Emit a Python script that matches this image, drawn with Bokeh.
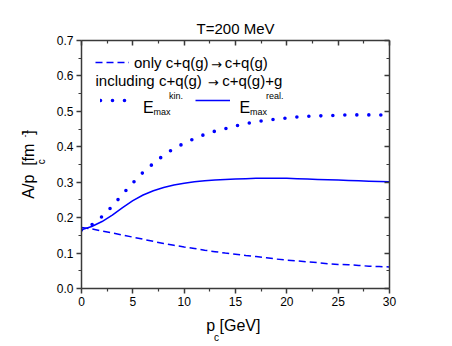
from bokeh.plotting import figure
from bokeh.models import (Range1d, LinearAxis, FixedTicker, Label, Legend, LegendItem,
                          CustomJSTickFormatter, Title)
from bokeh.embed import file_html
from bokeh.resources import INLINE

# ---------------- data ----------------
pc = list(range(0, 31))
only_elastic = [0.172, 0.168, 0.162, 0.157, 0.151, 0.145, 0.139, 0.133, 0.127, 0.122,
                0.117, 0.113, 0.108, 0.104, 0.100, 0.097, 0.093, 0.090, 0.087, 0.083,
                0.080, 0.078, 0.075, 0.073, 0.070, 0.068, 0.067, 0.065, 0.063, 0.062, 0.061]
emax_kin = [0.165, 0.180, 0.203, 0.232, 0.266, 0.298, 0.328, 0.353, 0.376, 0.395,
            0.410, 0.423, 0.435, 0.444, 0.451, 0.459, 0.465, 0.471, 0.475, 0.478,
            0.481, 0.484, 0.486, 0.487, 0.488, 0.489, 0.490, 0.490, 0.490, 0.490, 0.489]
emax_real = [0.166, 0.175, 0.189, 0.207, 0.228, 0.248, 0.264, 0.276, 0.285, 0.292,
             0.297, 0.301, 0.304, 0.306, 0.308, 0.309, 0.310, 0.311, 0.311, 0.311,
             0.311, 0.310, 0.309, 0.308, 0.307, 0.306, 0.305, 0.304, 0.303, 0.302, 0.301]

x_ticks = [0, 5, 10, 15, 20, 25, 30]
x_tick_labels = ["0", "5", "10", "15", "20", "25", "30"]
x_minor = [2.5, 7.5, 12.5, 17.5, 22.5, 27.5]
y_ticks = [0.0, 0.1, 0.2, 0.3, 0.4, 0.5, 0.6, 0.7]
y_tick_labels = ["0.0", "0.1", "0.2", "0.3", "0.4", "0.5", "0.6", "0.7"]
y_minor = [0.05, 0.15, 0.25, 0.35, 0.45, 0.55, 0.65]

FONT = "Liberation Sans"
BLUE = "#0000ff"
AX = "#3a3a3a"
NB = "\u00a0"

p = figure(width=450, height=344, output_backend="svg", toolbar_location=None,
           x_range=Range1d(0, 30), y_range=Range1d(0, 0.7),
           min_border_left=81, min_border_right=61, min_border_top=40, min_border_bottom=56,
           x_axis_location=None, y_axis_location=None,
           title="T=200 MeV")
p.title.align = "center"
p.title.text_font = FONT
p.title.text_font_size = "15px"
p.title.text_font_style = "normal"
p.title.text_color = "black"
p.title.standoff = 8
p.xgrid.visible = False
p.ygrid.visible = False
p.outline_line_color = None
p.background_fill_color = "white"
p.border_fill_color = "white"

r_dash = p.line(pc, only_elastic, line_color=BLUE, line_width=1.5, line_dash="7 4")
r_dot = p.line(pc, emax_kin, line_color=BLUE, line_width=3.6, line_dash="0 12", line_cap="round")
r_solid = p.line(pc, emax_real, line_color=BLUE, line_width=1.5)

def make_axis(ticks, minor, labels, show_labels, outward):
    ax = LinearAxis(ticker=FixedTicker(ticks=ticks, minor_ticks=minor))
    ax.axis_line_color = AX
    ax.axis_line_width = 1.5
    ax.major_tick_line_color = AX
    ax.minor_tick_line_color = AX
    ax.major_tick_line_width = 1.5
    ax.minor_tick_line_width = 1.2
    if outward:
        ax.major_tick_out, ax.major_tick_in = 5, 0
        ax.minor_tick_out, ax.minor_tick_in = 3, 0
    else:
        ax.major_tick_out, ax.major_tick_in = 0, 5
        ax.minor_tick_out, ax.minor_tick_in = 0, 3
    if show_labels:
        ax.major_label_overrides = {t: l for t, l in zip(ticks, labels)}
        ax.major_label_text_font = FONT
        ax.major_label_text_font_size = "12px"
        ax.major_label_text_color = "black"
        ax.major_label_standoff = 3
    else:
        ax.formatter = CustomJSTickFormatter(code="return ''")
        ax.major_label_text_font_size = "1px"
        ax.major_label_standoff = 0
    ax.axis_label_text_font = FONT
    ax.axis_label_text_font_style = "normal"
    ax.axis_label_text_color = "black"
    return ax

xax = make_axis(x_ticks, x_minor, x_tick_labels, True, True)
xax.axis_label = "p" + NB + "[GeV]" + NB
xax.axis_label_text_font_size = "16px"
xax.axis_label_standoff = 8
p.add_layout(xax, "below")

yax = make_axis(y_ticks, y_minor, y_tick_labels, True, True)
yax.axis_label = NB + NB + "c"
yax.axis_label_text_font_size = "10px"
yax.axis_label_standoff = 7
p.add_layout(yax, "left")

p.add_layout(make_axis(x_ticks, x_minor, x_tick_labels, False, False), "above")
p.add_layout(make_axis(y_ticks, y_minor, y_tick_labels, False, False), "right")

def title(text, side, size, align, offset, standoff):
    t = Title(text=text, align=align, offset=offset, standoff=standoff,
              text_font=FONT, text_font_size=size, text_font_style="normal",
              text_color="black")
    p.add_layout(t, side)

# subscript of the x label
title("c", "below", "10px", "left", 132.5, -13)
# y label main text and superscript
title("A/p" + NB + NB + "[fm" + NB + NB + "]", "left", "16px", "center", 18, -9)
title("-1", "left", "9px", "left", 151, -11)

def lab(text, x, y, size, align="left", baseline="alphabetic", font=FONT):
    p.add_layout(Label(x=x, y=y, x_units="screen", y_units="screen", text=text,
                       text_font=font, text_font_size=size, text_color="black",
                       text_align=align, text_baseline=baseline))

# legends
def leg(items, loc, gw, standoff):
    lg = Legend(items=items, location=loc, padding=0, margin=0, spacing=0,
                glyph_width=gw, glyph_height=20, label_height=20,
                label_standoff=standoff, border_line_color=None, background_fill_alpha=0,
                label_text_font=FONT, label_text_font_size="15px", label_text_color="black",
                orientation="vertical")
    p.add_layout(lg, "center")

ARROW = "\u2192"
leg([LegendItem(label="only c+q(g)", renderers=[r_dash])], (14, 216), 34, 5)
lab(ARROW, 135, 224, "13px", align="center", baseline="middle", font="DejaVu Sans")
lab("c+q(g)", 143.3, 226, "15px", baseline="middle")
lab("including c+q(g)", 14, 208, "15px", baseline="middle")
lab(ARROW, 131.7, 206, "13px", align="center", baseline="middle", font="DejaVu Sans")
lab("c+q(g)+g", 140.7, 208, "15px", baseline="middle")
leg([LegendItem(label=" ", renderers=[r_dot])], (19, 178), 27, 0)
leg([LegendItem(label=" ", renderers=[r_solid])], (114, 178), 35, 0)
lab("E", 61.5, 181, "16px")
lab("max", 72, 177, "9px")
lab("kin.", 87.5, 193, "9px")
lab("E", 158, 181, "16px")
lab("max", 168.5, 177, "9px")
lab("real.", 184.5, 193, "9px")

open("out.html", "w").write(file_html(p, INLINE))
